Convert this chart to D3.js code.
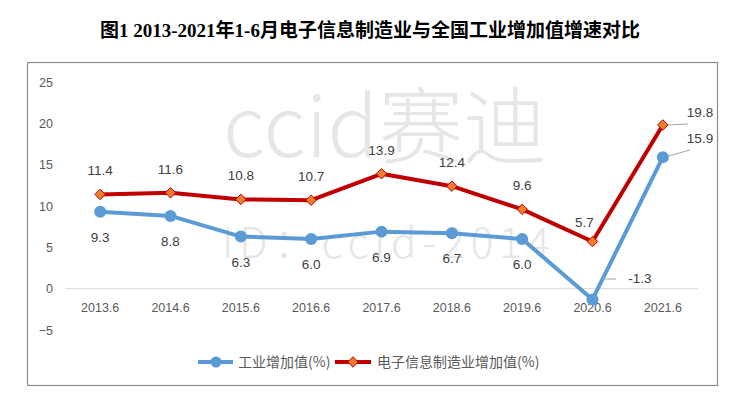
<!DOCTYPE html>
<html>
<head>
<meta charset="utf-8">
<script src="https://cdn.jsdelivr.net/npm/d3@7"></script>
<style>
  body { margin: 0; background: #fff; }
  svg { display: block; }
</style>
</head>
<body>
<div id="chart"></div>
<script>
// chart data
const categories = ["2013.6", "2014.6", "2015.6", "2016.6", "2017.6", "2018.6", "2019.6", "2020.6", "2021.6"];
const industryValues = [9.3, 8.8, 6.3, 6.0, 6.9, 6.7, 6.0, -1.3, 15.9];
const electronicsValues = [11.4, 11.6, 10.8, 10.7, 13.9, 12.4, 9.6, 5.7, 19.8];
const yTicks = [-5, 0, 5, 10, 15, 20, 25];
const seriesNames = ["工业增加值(%)", "电子信息制造业增加值(%)"];

const W = 740, H = 394;
const svg = d3.select("#chart").append("svg").attr("width", W).attr("height", H);

const cjk = "'Noto Sans CJK SC', 'Noto Sans', sans-serif";

// title
svg.append("text")
  .attr("x", 370).attr("y", 37)
  .attr("text-anchor", "middle")
  .style("font-family", "'Liberation Serif', 'Noto Sans CJK SC', serif")
  .style("font-weight", "bold")
  .style("font-size", "19px")
  .attr("fill", "#000")
  .text("图1 2013-2021年1-6月电子信息制造业与全国工业增加值增速对比");

// chart frame
svg.append("rect")
  .attr("x", 27.5).attr("y", 62.5).attr("width", 690).attr("height", 323)
  .attr("fill", "none").attr("stroke", "#8c8c8c").attr("stroke-width", 1.2);

// watermark
svg.append("text")
  .attr("x", 223).attr("y", 157)
  .attr("textLength", 324)
  .style("font-family", cjk).style("font-weight", 300).style("font-size", "84px")
  .attr("fill", "#e6e6e6")
  .text("ccid赛迪");
svg.append("text")
  .attr("x", 222).attr("y", 258)
  .attr("textLength", 328)
  .style("font-family", cjk).style("font-weight", 300).style("font-size", "42px")
  .attr("fill", "#e6e6e6")
  .text("ID：ccid-2014");

const x = d3.scaleBand().domain(categories).range([65, 698]);
const y = d3.scaleLinear().domain([-5, 25]).range([330, 82]);
const cx = d => x(d) + x.bandwidth() / 2;

// y axis labels
const yAxis = d3.axisLeft(y).tickValues(yTicks).tickSize(0).tickPadding(0);
const gy = svg.append("g").attr("transform", "translate(53,0)").call(yAxis);
gy.select(".domain").remove();
gy.selectAll("text")
  .style("font-family", "'Liberation Sans', Arial, sans-serif")
  .style("font-size", "12.5px").attr("fill", "#595959");

// zero line
svg.append("line")
  .attr("x1", 65).attr("x2", 698)
  .attr("y1", y(0)).attr("y2", y(0))
  .attr("stroke", "#d9d9d9").attr("stroke-width", 1);

// x axis labels
const xAxis = d3.axisBottom(x).tickSize(0).tickPadding(0);
const gx = svg.append("g").attr("transform", "translate(0,303)").call(xAxis);
gx.select(".domain").remove();
gx.selectAll("text")
  .style("font-family", "'Liberation Sans', Arial, sans-serif")
  .style("font-size", "12.5px").attr("fill", "#595959");

const blue = "#5b9bd5", red = "#c00000", orange = "#ed7d31";

const line = d3.line().x((d, i) => cx(categories[i])).y(d => y(d));

svg.append("path").datum(industryValues)
  .attr("d", line).attr("fill", "none")
  .attr("stroke", blue).attr("stroke-width", 4).attr("stroke-linejoin", "round");
svg.append("path").datum(electronicsValues)
  .attr("d", line).attr("fill", "none")
  .attr("stroke", red).attr("stroke-width", 4).attr("stroke-linejoin", "round");

// markers
svg.selectAll("circle.ind").data(industryValues).join("circle")
  .attr("cx", (d, i) => cx(categories[i])).attr("cy", d => y(d))
  .attr("r", 6).attr("fill", blue);

const diamond = d3.symbol().type(d3.symbolDiamond2).size(70);
svg.selectAll("path.ele").data(electronicsValues).join("path")
  .attr("class", "ele")
  .attr("d", diamond)
  .attr("transform", (d, i) => `translate(${cx(categories[i])},${y(d)})`)
  .attr("fill", orange).attr("stroke", red).attr("stroke-width", 1);

// data labels
const labelStyle = sel => sel
  .style("font-family", "'Liberation Sans', Arial, sans-serif")
  .style("font-size", "13.5px").attr("fill", "#404040");

const last = categories.length - 1;

svg.selectAll("text.lab-e").data(electronicsValues).join("text")
  .attr("x", (d, i) => i === last ? 700 : cx(categories[i]) + (i === 7 ? -8 : 0))
  .attr("y", (d, i) => i === last ? 117 : i === 7 ? 227 : y(d) - 19)
  .attr("text-anchor", (d, i) => i === last ? "middle" : "middle")
  .text(d => d.toFixed(1))
  .call(labelStyle);

svg.selectAll("text.lab-i").data(industryValues).join("text")
  .attr("x", (d, i) => i === last ? 700 : i === 7 ? 640 : cx(categories[i]))
  .attr("y", (d, i) => i === last ? 143 : i === 7 ? 283 : y(d) + 30)
  .attr("text-anchor", "middle")
  .text(d => d.toFixed(1))
  .call(labelStyle);

// leader lines
const leaders = [
  [cx(categories[last]) + 5, y(electronicsValues[last]), 688, y(electronicsValues[last]) - 1],
  [cx(categories[last]) + 5, y(industryValues[last]) - 1, 690, 150],
  [cx(categories[7]) + 10, 279, 616, 279]
];
svg.selectAll("line.leader").data(leaders).join("line")
  .attr("x1", d => d[0]).attr("y1", d => d[1])
  .attr("x2", d => d[2]).attr("y2", d => d[3])
  .attr("stroke", "#a6a6a6").attr("stroke-width", 1);

// legend
const leg = svg.append("g");
leg.append("line").attr("x1", 198).attr("x2", 233).attr("y1", 362).attr("y2", 362)
  .attr("stroke", blue).attr("stroke-width", 4);
leg.append("circle").attr("cx", 216).attr("cy", 362).attr("r", 5.5).attr("fill", blue);
leg.append("text").attr("x", 238).attr("y", 367).text(seriesNames[0])
  .style("font-family", cjk).style("font-size", "14px").attr("fill", "#595959");
leg.append("line").attr("x1", 335).attr("x2", 371).attr("y1", 362).attr("y2", 362)
  .attr("stroke", red).attr("stroke-width", 4);
leg.append("path").attr("d", diamond)
  .attr("transform", "translate(353,362)")
  .attr("fill", orange).attr("stroke", red).attr("stroke-width", 1);
leg.append("text").attr("x", 377).attr("y", 367).text(seriesNames[1])
  .style("font-family", cjk).style("font-size", "14px").attr("fill", "#595959");
</script>
</body>
</html>
